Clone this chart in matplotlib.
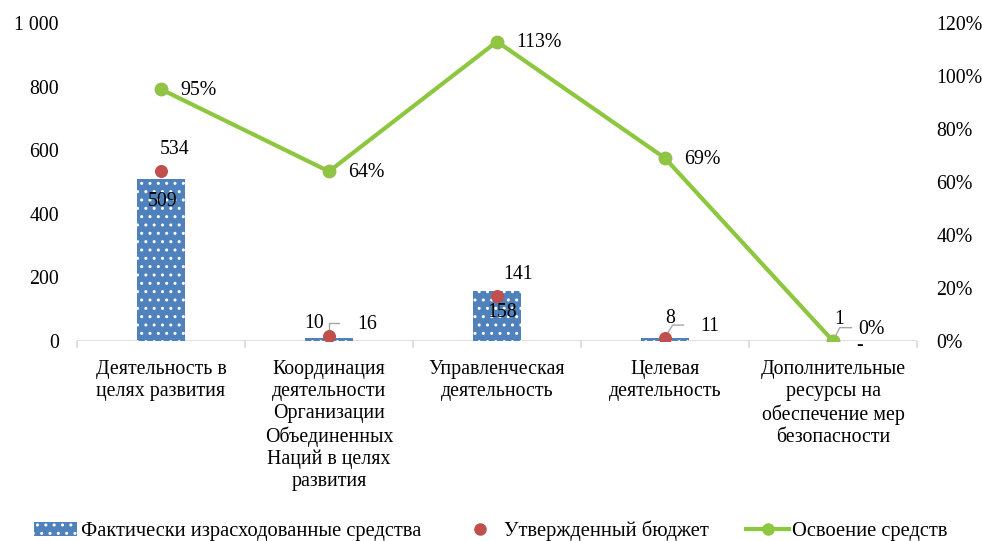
import numpy as np
import matplotlib.pyplot as plt
from matplotlib.lines import Line2D
from matplotlib.patches import Patch

plt.rcParams['font.family'] = ['Liberation Serif', 'DejaVu Serif']
plt.rcParams['hatch.color'] = 'white'
plt.rcParams['hatch.linewidth'] = 1.0

categories = ["Деятельность в\nцелях развития",
              "Координация\nдеятельности\nОрганизации\nОбъединенных\nНаций в целях\nразвития",
              "Управленческая\nдеятельность",
              "Целевая\nдеятельность",
              "Дополнительные\nресурсы на\nобеспечение мер\nбезопасности"]
actual = [509, 10, 158, 8, 0]
budget = [534, 16, 141, 11, 1]
uptake = [95, 64, 113, 69, 0]
actual_lbl = ["509", "10", "158", "8", "-"]
budget_lbl = ["534", "16", "141", "11", "1"]

fig = plt.figure(figsize=(9.82, 5.41), dpi=100)
ax = fig.add_axes([77/982, 1-341/541, 840/982, 318/541])
ax2 = ax.twinx()

x = np.arange(len(categories))
blue = '#4F81BD'
red = '#C0504D'
green = '#8DC63F'
fs = 14.3

ax.bar(x, actual, width=0.28, color=blue, edgecolor='white', linewidth=0, hatch='..', zorder=2)
ax.scatter(x, budget, s=70, color=red, zorder=3)
ax2.plot(x, uptake, color=green, lw=3, marker='o', ms=9, mfc=green, mec='#9BBB59', zorder=4)

ax.set_xlim(-0.5, 4.5)
ax.set_ylim(0, 1000)
ax2.set_ylim(0, 120)
ax.set_yticks(range(0, 1001, 200))
ax.set_yticklabels(['0', '200', '400', '600', '800', '1 000'])
ax2.set_yticks(range(0, 121, 20))
ax2.set_yticklabels([f'{v}%' for v in range(0, 121, 20)])
ax.set_xticks(x)
ax.set_xticklabels(categories, linespacing=1.2, va='top')
ax.set_xticks(np.arange(-0.5, 5, 1), minor=True)

for a in (ax, ax2):
    for s in ('top', 'left', 'right', 'bottom'):
        a.spines[s].set_visible(False)
    a.tick_params(length=0, labelsize=fs)
ax.tick_params(axis='x', which='minor', length=5, width=1.2, color='#D9D9D9')
ax.tick_params(axis='y', pad=13)
ax2.tick_params(axis='y', pad=14)
ax.tick_params(axis='x', which='major', pad=14)
ax.axhline(0, color='#D9D9D9', lw=1.2, zorder=1)

lead = '#A6A6A6'
op = 'offset pixels'


def lab(a, txt, xy, dx, dy, ha='center'):
    a.annotate(txt, xy, xytext=(dx, dy), textcoords=op, ha=ha, va='center', fontsize=fs, zorder=6)


# large bars: budget above, actual inside
lab(ax, budget_lbl[0], (x[0], budget[0]), 14, 22)
lab(ax, actual_lbl[0], (x[0], actual[0]), 2, -22)
lab(ax, budget_lbl[2], (x[2], budget[2]), 21, 22)
lab(ax, actual_lbl[2], (x[2], actual[2]), 5, -22)
# small bars with leader lines
lab(ax, actual_lbl[1], (x[1], budget[1]), -15, 12)
ax.plot([x[1], x[1], x[1] + 0.06], [budget[1] - 3, 57, 57], color=lead, lw=1, zorder=2)
lab(ax, budget_lbl[1], (x[1], budget[1]), 38, 11)
lab(ax, actual_lbl[3], (x[3], budget[3]), 5, 19)
ax.plot([x[3], x[3] + 0.045, x[3] + 0.11], [budget[3], 50, 50], color=lead, lw=1, zorder=2)
lab(ax, budget_lbl[3], (x[3], budget[3]), 45, 11)
lab(ax, budget_lbl[4], (x[4], 0), 6, 21)
ax.plot([x[4], x[4] + 0.04, x[4] + 0.11], [0, 42, 42], color=lead, lw=1, zorder=5)
lab(ax, actual_lbl[4], (x[4], 0), 27, -5)

for i, v in enumerate(uptake):
    if i < 4:
        lab(ax2, f'{v}%', (x[i], v), 19, -1, ha='left')
    else:
        lab(ax2, f'{v}%', (x[i], v), 38, 12)

handles = [Patch(facecolor=blue, edgecolor='white', hatch='..', linewidth=0),
           Line2D([], [], marker='o', color=red, ls='none', ms=8),
           Line2D([], [], color=green, lw=3, marker='o', ms=8)]
labels = ['Фактически израсходованные средства', 'Утвержденный бюджет', 'Освоение средств']
fig.legend(handles, labels, loc='lower center', ncol=3, frameon=False, fontsize=14.8,
           bbox_to_anchor=(0.5, -0.035), columnspacing=1.8, handlelength=2.1, handletextpad=0.15)

fig.savefig('out.png', dpi=100)
